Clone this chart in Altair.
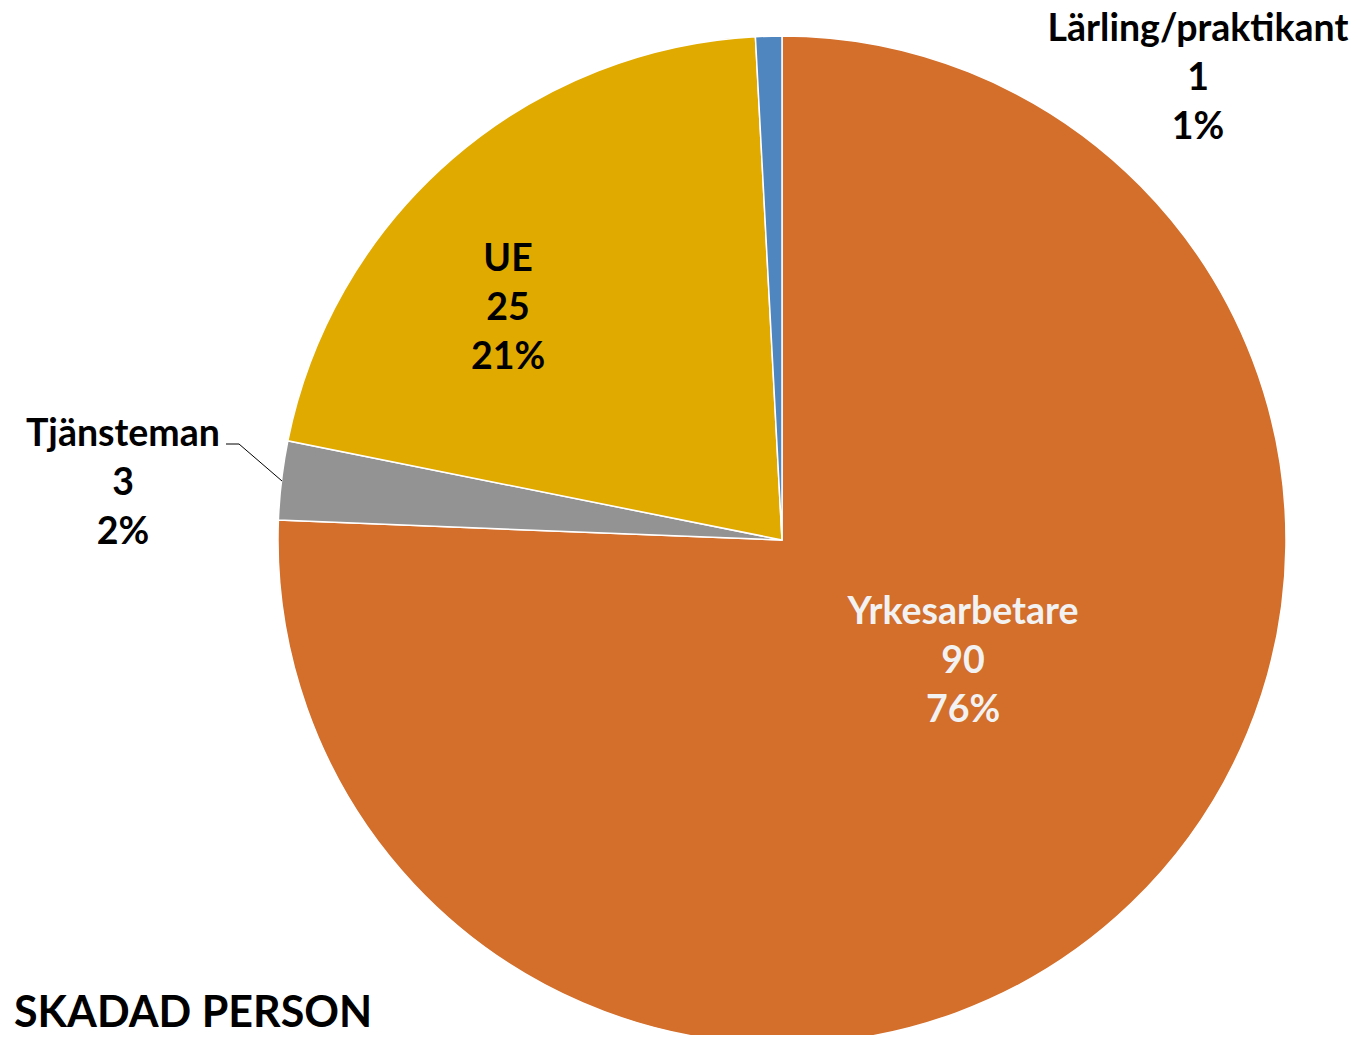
import altair as alt
import pandas as pd

# ---- data ----
categories = ["Yrkesarbetare", "Tjänsteman", "UE", "Lärling/praktikant"]
counts = [90, 3, 25, 1]
percents = ["76%", "2%", "21%", "1%"]
colors = ["#D36E2B", "#939393", "#E0AA00", "#4F86C0"]
title_text = "SKADAD PERSON"

# ---- layout / style (chart pixel coordinates; chart origin is page (8,8)) ----
CX, CY, R = 774, 532, 504
# centre of the first line of each label
label_pos = {
    "Yrkesarbetare": (955, 605),
    "Tjänsteman": (115, 427),
    "UE": (500, 252),
    "Lärling/praktikant": (1190, 22),
}
label_color = {
    "Yrkesarbetare": "#F2F2F2",
    "Tjänsteman": "#000000",
    "UE": "#000000",
    "Lärling/praktikant": "#000000",
}
FONT = "Lato"
LABEL_SIZE = 37.5
LINE_H = 49

df = pd.DataFrame({
    "cat": categories,
    "count": counts,
    "pct": percents,
    "order": list(range(len(categories))),
})

pie = alt.Chart(df).mark_arc(stroke="white", strokeWidth=1.5).encode(
    theta=alt.Theta("count:Q", stack=True),
    order=alt.Order("order:Q"),
    color=alt.Color("cat:N", scale=alt.Scale(domain=categories, range=colors), legend=None),
    x=alt.value(CX),
    y=alt.value(CY),
    radius=alt.value(R),
)

layers = [pie]
for cat, cnt, pct in zip(categories, counts, percents):
    lx, ly = label_pos[cat]
    ldf = pd.DataFrame({"label": [f"{cat}\n{cnt}\n{pct}"]})
    layers.append(
        alt.Chart(ldf).mark_text(
            font=FONT, fontSize=LABEL_SIZE, fontWeight="bold",
            lineBreak="\n", lineHeight=LINE_H, align="center", baseline="middle",
            color=label_color[cat],
        ).encode(text="label:N", x=alt.value(lx), y=alt.value(ly))
    )

# leader line for Tjänsteman
leader_df = pd.DataFrame({"k": [0]})
layers.append(
    alt.Chart(leader_df).mark_rule(color="black", strokeWidth=1).encode(
        x=alt.value(218), x2=alt.value(231), y=alt.value(436), y2=alt.value(436)
    )
)
layers.append(
    alt.Chart(leader_df).mark_rule(color="black", strokeWidth=1).encode(
        x=alt.value(231), x2=alt.value(274), y=alt.value(436), y2=alt.value(473)
    )
)

# title
tdf = pd.DataFrame({"t": [title_text]})
layers.append(
    alt.Chart(tdf).mark_text(
        font=FONT, fontSize=43, fontWeight="bold", align="left", baseline="alphabetic", color="black"
    ).encode(text="t:N", x=alt.value(6), y=alt.value(1019))
)

chart = alt.layer(*layers).properties(
    width=1344, height=1027,
    autosize=alt.AutoSizeParams(type="none"),
    padding=0,
).configure_view(stroke=None)

chart.save("out.html", embed_options={"renderer": "svg", "actions": False})
